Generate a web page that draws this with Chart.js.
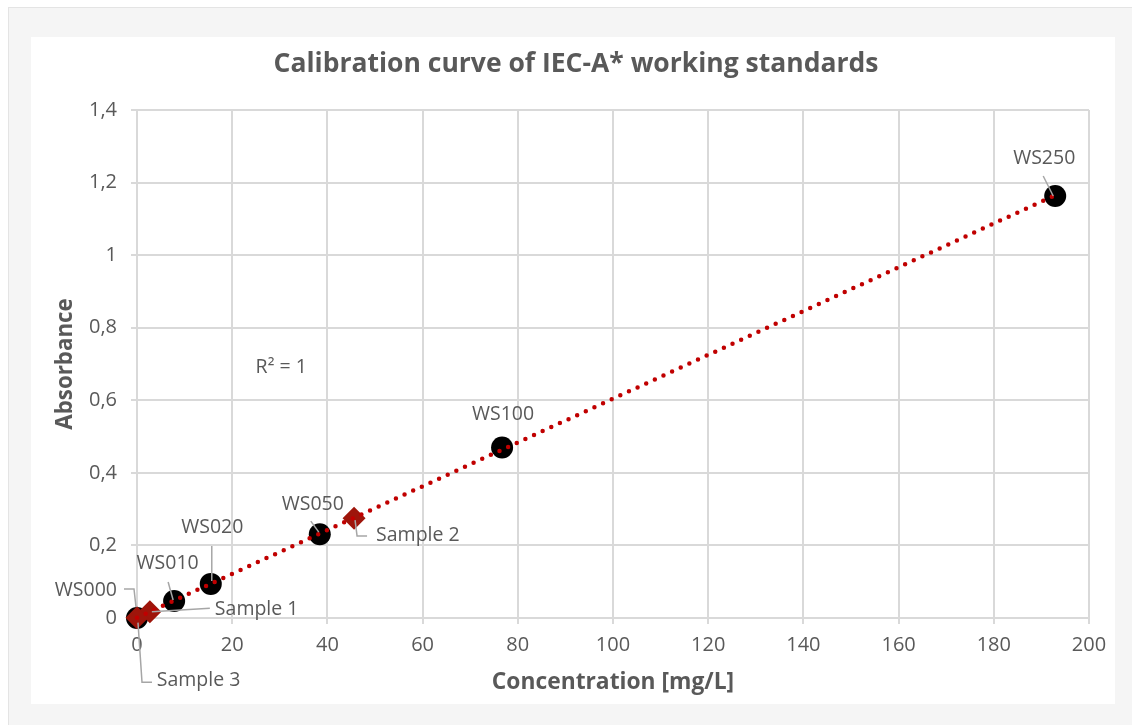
<!DOCTYPE html>
<html lang="en">
<head>
    <meta charset="UTF-8">
    <title>Calibration curve of IEC-A* working standards</title>
    <script src="https://cdn.jsdelivr.net/npm/chart.js"></script>
    <style>
        html, body {
            margin: 0;
            padding: 0;
            width: 1132px;
            height: 725px;
            overflow: hidden;
            background: #ffffff;
            font-family: 'Open Sans', sans-serif;
        }
        .outer {
            position: absolute;
            left: 8px;
            top: 7px;
            right: 0;
            bottom: 0;
            background: #f5f5f5;
            border-left: 1px solid #e4e4e4;
            border-top: 1px solid #e4e4e4;
        }
        .card {
            position: absolute;
            left: 31px;
            top: 37px;
            width: 1084px;
            height: 667px;
            background: #ffffff;
        }
        canvas {
            position: absolute;
            left: 0;
            top: 0;
        }
    </style>
</head>
<body>
    <div class="outer"></div>
    <div class="card"></div>
    <canvas id="calChart" width="1132" height="725"></canvas>

    <script>
        // working standards (concentration mg/L, absorbance)
        const standardNames = ['WS000', 'WS010', 'WS020', 'WS050', 'WS100', 'WS250'];
        const standardConc = [0, 7.8, 15.5, 38.4, 76.7, 192.9];
        const standardAbs = [0, 0.047, 0.094, 0.231, 0.470, 1.163];

        // measured samples
        const sampleNames = ['Sample 1', 'Sample 2', 'Sample 3'];
        const sampleConc = [2.7, 45.6, 0];
        const sampleAbs = [0.017, 0.275, 0.001];

        // axes
        const xMin = 0, xMax = 200, xStep = 20;
        const yMin = 0, yMax = 1.4, yStep = 0.2;

        const r2Text = 'R\u00B2 = 1';
        const r2At = { x: 30.3, y: 0.69 };

        // label placement relative to the marker (px), leader lines as polylines
        const labelLayout = {
            'WS000':    { dx: -20, dy: -27.5, align: 'right',  leader: [[-13, -29], [-3, -29], [-1, -11]] },
            'WS010':    { dx: -6.5, dy: -37.5, align: 'center', leader: [[-6, -19], [-1, -1]] },
            'WS020':    { dx: 1.5, dy: -56, align: 'center',  leader: [[1, -38], [1, -3]] },
            'WS050':    { dx: -7, dy: -29.5, align: 'center',  leader: [[-9, -13], [-1, -2]] },
            'WS100':    { dx: 1, dy: -33, align: 'center',     leader: null },
            'WS250':    { dx: -11, dy: -37.5, align: 'center', leader: [[-12, -20], [-2, 0]] },
            'Sample 1': { dx: 65, dy: -2.7, align: 'left',     leader: [[60, -3.5], [2, 0]] },
            'Sample 2': { dx: 22, dy: 17.7, align: 'left',     leader: [[13, 17.7], [3, 17.7], [1, 2]] },
            'Sample 3': { dx: 19.7, dy: 62.5, align: 'left',   leader: [[15, 64.7], [5, 64.7], [1, 5]] }
        };

        const textColor = '#595959';
        const gridColor = '#d9d9d9';

        // linear trendline through the standards (least squares)
        function linearFit(xs, ys) {
            const n = xs.length;
            const mx = xs.reduce((a, b) => a + b, 0) / n;
            const my = ys.reduce((a, b) => a + b, 0) / n;
            let sxy = 0, sxx = 0;
            for (let i = 0; i < n; i++) {
                sxy += (xs[i] - mx) * (ys[i] - my);
                sxx += (xs[i] - mx) * (xs[i] - mx);
            }
            const slope = sxy / sxx;
            return { slope: slope, intercept: my - slope * mx };
        }
        const fit = linearFit(standardConc, standardAbs);
        const trendX = [Math.min(...standardConc), Math.max(...standardConc)];

        const pointLabels = {
            id: 'pointLabels',
            afterDatasetsDraw(chart) {
                const ctx = chart.ctx;
                ctx.save();
                ctx.font = '19.5px "Open Sans"';
                ctx.textBaseline = 'middle';
                chart.data.datasets.forEach((ds, i) => {
                    if (!ds.names) return;
                    const meta = chart.getDatasetMeta(i);
                    meta.data.forEach((pt, j) => {
                        const lay = labelLayout[ds.names[j]];
                        if (!lay) return;
                        if (lay.leader) {
                            ctx.strokeStyle = '#a6a6a6';
                            ctx.lineWidth = 1.5;
                            ctx.beginPath();
                            lay.leader.forEach((p, k) => {
                                if (k === 0) ctx.moveTo(pt.x + p[0], pt.y + p[1]);
                                else ctx.lineTo(pt.x + p[0], pt.y + p[1]);
                            });
                            ctx.stroke();
                        }
                        ctx.fillStyle = textColor;
                        ctx.textAlign = lay.align;
                        ctx.fillText(ds.names[j], pt.x + lay.dx, pt.y + lay.dy);
                    });
                });
                // R squared of the trendline
                ctx.textAlign = 'center';
                ctx.fillStyle = textColor;
                ctx.fillText(r2Text, chart.scales.x.getPixelForValue(r2At.x), chart.scales.y.getPixelForValue(r2At.y));
                ctx.restore();
            }
        };

        const ctx = document.getElementById('calChart').getContext('2d');
        new Chart(ctx, {
            type: 'scatter',
            data: {
                datasets: [
                    {
                        label: 'Trendline',
                        type: 'line',
                        data: trendX.map(x => ({ x: x, y: fit.intercept + fit.slope * x })),
                        borderColor: '#c00000',
                        borderWidth: 4.5,
                        borderDash: [0, 9.5],
                        borderCapStyle: 'round',
                        pointRadius: 0,
                        fill: false,
                        clip: false,
                        order: 0
                    },
                    {
                        label: 'Samples',
                        names: sampleNames,
                        data: sampleConc.map((x, i) => ({ x: x, y: sampleAbs[i] })),
                        pointStyle: 'rectRot',
                        pointRadius: 11.5,
                        pointHoverRadius: 11.5,
                        backgroundColor: '#9e150b',
                        borderWidth: 0,
                        clip: false,
                        order: 1
                    },
                    {
                        label: 'Working standards',
                        names: standardNames,
                        data: standardConc.map((x, i) => ({ x: x, y: standardAbs[i] })),
                        pointStyle: 'circle',
                        pointRadius: 11,
                        pointHoverRadius: 11,
                        backgroundColor: '#000000',
                        borderWidth: 0,
                        clip: false,
                        order: 2
                    }
                ]
            },
            options: {
                responsive: false,
                animation: false,
                events: [],
                layout: {
                    padding: { left: 31, top: 37, right: 11, bottom: 21 }
                },
                plugins: {
                    legend: { display: false },
                    tooltip: { enabled: false },
                    title: {
                        display: true,
                        text: 'Calibration curve of IEC-A* working standards',
                        color: textColor,
                        font: { family: 'Open Sans', size: 26.5, weight: 'bold' },
                        padding: { top: 12, bottom: 29.2 }
                    }
                },
                scales: {
                    x: {
                        type: 'linear',
                        position: 'bottom',
                        min: xMin,
                        max: xMax,
                        ticks: {
                            stepSize: xStep,
                            color: textColor,
                            font: { family: 'Open Sans', size: 20 },
                            padding: 9
                        },
                        grid: { color: gridColor, lineWidth: 2, tickLength: 6, tickColor: gridColor },
                        border: { color: gridColor, width: 2 },
                        title: {
                            display: true,
                            text: 'Concentration [mg/L]',
                            color: textColor,
                            font: { family: 'Open Sans', size: 22.8, weight: 'bold' },
                            padding: { top: 0, bottom: 8 }
                        },
                        afterFit(scale) { scale.height = 86; }
                    },
                    y: {
                        type: 'linear',
                        position: 'left',
                        min: yMin,
                        max: yMax,
                        ticks: {
                            stepSize: yStep,
                            color: textColor,
                            font: { family: 'Open Sans', size: 20 },
                            padding: 14,
                            callback: v => String(Number(v.toFixed(1))).replace('.', ',')
                        },
                        grid: { color: gridColor, lineWidth: 2, tickLength: 6, tickColor: gridColor },
                        border: { color: gridColor, width: 2 },
                        title: {
                            display: true,
                            text: 'Absorbance',
                            color: textColor,
                            font: { family: 'Open Sans', size: 22.3, weight: 'bold' },
                            padding: { top: 21.5, bottom: 0 }
                        },
                        afterFit(scale) { scale.width = 106; }
                    },
                    // empty right-hand box so the title centres over the white card
                    rightPad: {
                        type: 'linear',
                        position: 'right',
                        display: true,
                        ticks: { display: false },
                        grid: { display: false },
                        border: { display: false },
                        afterFit(scale) { scale.width = 32; }
                    }
                }
            },
            plugins: [pointLabels]
        });
    </script>
</body>
</html>
